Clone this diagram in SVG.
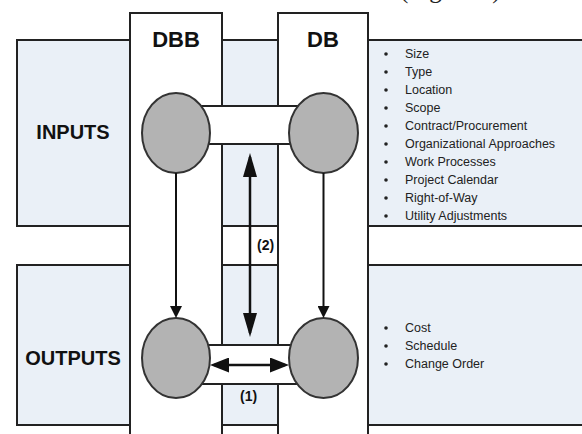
<svg xmlns="http://www.w3.org/2000/svg" width="582" height="434" viewBox="0 0 582 434">
<style>
.bg{fill:#ffffff}
.light{fill:#eaf0f7;stroke:#222;stroke-width:2}
.col{fill:#ffffff;stroke:#222;stroke-width:2}
.band{fill:#ffffff;stroke:#222;stroke-width:2}
.node{fill:#b3b3b3;stroke:#333;stroke-width:2}
.hdr{font-family:"Liberation Sans",Arial,sans-serif;font-weight:bold;font-size:22px;fill:#111;text-anchor:middle}
.row{font-family:"Liberation Sans",Arial,sans-serif;font-weight:bold;font-size:20px;fill:#111;text-anchor:middle}
.lbl{font-family:"Liberation Sans",Arial,sans-serif;font-weight:bold;font-size:14px;fill:#111}
.item{font-family:"Liberation Sans",Arial,sans-serif;font-size:12.5px;fill:#222}
.dot{fill:#222}
.conn{stroke:#111;fill:none}
.fig{font-family:"Liberation Serif","Times New Roman",serif;font-size:25px;fill:#222}
</style>
<defs>
<marker id="headBig" markerUnits="userSpaceOnUse" markerWidth="24" markerHeight="14" refX="20" refY="7" orient="auto-start-reverse"><path d="M0,0 L24,7 L0,14 z" fill="#111"/></marker>
<marker id="headMid" markerUnits="userSpaceOnUse" markerWidth="19" markerHeight="15" refX="15" refY="7.5" orient="auto-start-reverse"><path d="M0,0 L19,7.5 L0,15 z" fill="#111"/></marker>
<marker id="headSmall" markerUnits="userSpaceOnUse" markerWidth="12" markerHeight="12" refX="9" refY="6" orient="auto"><path d="M0,0 L12,6 L0,12 z" fill="#111"/></marker>
</defs>
<rect class="bg" x="0" y="0" width="582" height="434"/>
<text class="fig" x="400" y="-2">(Figure 1)</text>

<g id="rows">
<rect class="light" x="17" y="40" width="600" height="186"/>
<rect class="light" x="17" y="265" width="600" height="160"/>
</g>
<g id="col-dbb">
<rect class="col" x="130" y="13" width="92" height="440"/>
<text class="hdr" x="176" y="47">DBB</text>
</g>
<g id="col-db">
<rect class="col" x="278" y="13" width="90" height="440"/>
<text class="hdr" x="323" y="47">DB</text>
</g>
<g id="mid-col">
<line x1="222" y1="13" x2="222" y2="434" stroke="#222" stroke-width="2"/>
<line x1="278" y1="13" x2="278" y2="434" stroke="#222" stroke-width="2"/>
</g>
<g id="inputs">
<text class="row" x="73" y="139">INPUTS</text>
</g>
<g id="outputs">
<text class="row" x="73" y="365">OUTPUTS</text>
</g>
<g id="input-list">
<circle class="dot" cx="386" cy="54" r="1.8"/><text class="item" x="405" y="58">Size</text>
<circle class="dot" cx="386" cy="72" r="1.8"/><text class="item" x="405" y="76">Type</text>
<circle class="dot" cx="386" cy="90" r="1.8"/><text class="item" x="405" y="94">Location</text>
<circle class="dot" cx="386" cy="108" r="1.8"/><text class="item" x="405" y="112">Scope</text>
<circle class="dot" cx="386" cy="126" r="1.8"/><text class="item" x="405" y="130">Contract/Procurement</text>
<circle class="dot" cx="386" cy="144" r="1.8"/><text class="item" x="405" y="148">Organizational Approaches</text>
<circle class="dot" cx="386" cy="162" r="1.8"/><text class="item" x="405" y="166">Work Processes</text>
<circle class="dot" cx="386" cy="180" r="1.8"/><text class="item" x="405" y="184">Project Calendar</text>
<circle class="dot" cx="386" cy="198" r="1.8"/><text class="item" x="405" y="202">Right-of-Way</text>
<circle class="dot" cx="386" cy="216" r="1.8"/><text class="item" x="405" y="220">Utility Adjustments</text>
</g>
<g id="output-list">
<circle class="dot" cx="386" cy="328" r="1.8"/><text class="item" x="405" y="332">Cost</text>
<circle class="dot" cx="386" cy="346" r="1.8"/><text class="item" x="405" y="350">Schedule</text>
<circle class="dot" cx="386" cy="364" r="1.8"/><text class="item" x="405" y="368">Change Order</text>
</g>
<g id="bands">
<rect class="band" x="176" y="106" width="147" height="38"/>
<rect class="band" x="176" y="345" width="147" height="39"/>
</g>
<g id="dbb-in"><ellipse class="node" cx="176" cy="133" rx="34" ry="40"/></g>
<g id="db-in"><ellipse class="node" cx="323.5" cy="133" rx="34.5" ry="40"/></g>
<g id="dbb-out"><ellipse class="node" cx="176" cy="358" rx="34" ry="40"/></g>
<g id="db-out"><ellipse class="node" cx="323.5" cy="358" rx="34.5" ry="40"/></g>
<g id="connectors">
<line class="conn" x1="176" y1="173" x2="176" y2="315" stroke-width="2" marker-end="url(#headSmall)"/>
<line class="conn" x1="323.5" y1="173" x2="323.5" y2="315" stroke-width="2" marker-end="url(#headSmall)"/>
<line class="conn" x1="250" y1="157" x2="250" y2="333" stroke-width="2.5" marker-start="url(#headBig)" marker-end="url(#headBig)"/>
<line class="conn" x1="214" y1="365" x2="285" y2="365" stroke-width="2.5" marker-start="url(#headMid)" marker-end="url(#headMid)"/>
<text class="lbl" x="257" y="250">(2)</text>
<text class="lbl" x="240" y="401">(1)</text>
</g>
</svg>
